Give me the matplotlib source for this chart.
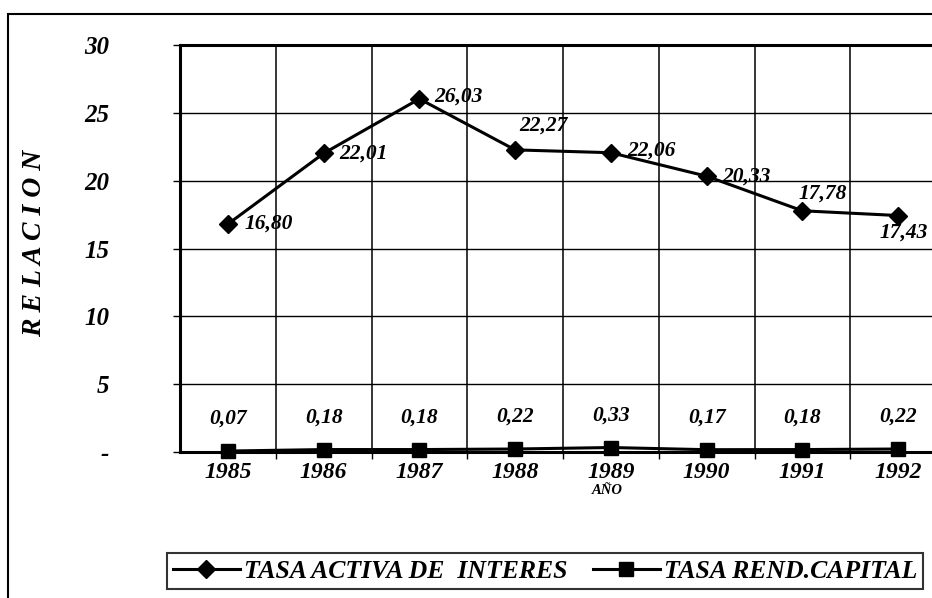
import matplotlib
matplotlib.use("Agg")
import matplotlib.pyplot as plt
from matplotlib.patches import Rectangle

plt.rcParams['font.family'] = ['Liberation Serif', 'DejaVu Serif']

years = ['1985', '1986', '1987', '1988', '1989', '1990', '1991', '1992']
tasa_activa = [16.80, 22.01, 26.03, 22.27, 22.06, 20.33, 17.78, 17.43]
tasa_rend = [0.07, 0.18, 0.18, 0.22, 0.33, 0.17, 0.18, 0.22]
yticks = [0, 5, 10, 15, 20, 25, 30]
ytick_labels = ['-', '5', '10', '15', '20', '25', '30']
series_names = ['TASA ACTIVA DE  INTERES', 'TASA REND.CAPITAL']

def fmt(v):
    return f"{v:.2f}".replace('.', ',')

W, H = 932, 598
fig = plt.figure(figsize=(W / 100, H / 100), dpi=100)
ax = fig.add_axes([180 / W, (H - 452) / H, 766 / W, 407 / H])

xs = list(range(len(years)))
ax.set_xlim(-0.5, len(years) - 0.5)
ax.set_ylim(0, 30)

ax.set_xticks([i + 0.5 for i in range(len(years) - 1)], minor=True)
ax.set_yticks(yticks)
ax.set_yticklabels(ytick_labels)
ax.set_xticks(xs)
ax.set_xticklabels(years)
ax.grid(True, which='minor', axis='x', color='black', lw=1.1)
ax.grid(True, which='major', axis='y', color='black', lw=1.0)
ax.set_axisbelow(True)

for s in ['left', 'bottom', 'top']:
    ax.spines[s].set_linewidth(2.2)
ax.spines['right'].set_visible(False)

tfont = dict(fontweight='bold', fontstyle='italic')
ax.tick_params(axis='y', length=5, width=1, pad=46, labelsize=18, direction='out')
ax.tick_params(axis='x', which='major', length=0, pad=7, labelsize=17)
ax.tick_params(axis='x', which='minor', length=5, width=1, direction='out')
for lab in ax.get_yticklabels() + ax.get_xticklabels():
    lab.set_fontweight('bold')
    lab.set_fontstyle('italic')

l1, = ax.plot(xs, tasa_activa, color='black', lw=2.2, marker='D', ms=9,
              markerfacecolor='black', markeredgecolor='black', clip_on=False, zorder=4)
l2, = ax.plot(xs, tasa_rend, color='black', lw=2.2, marker='s', ms=10,
              markerfacecolor='black', markeredgecolor='black', clip_on=False, zorder=4)

offs1 = [(17, 0, 'left', 'center'), (16, 0, 'left', 'center'), (15, 2, 'left', 'center'),
         (4, 24, 'left', 'center'), (16, 2, 'left', 'center'), (16, 0, 'left', 'center'),
         (20, 17, 'center', 'center'), (6, -17, 'center', 'center')]
for x, v, (dx, dy, ha, va) in zip(xs, tasa_activa, offs1):
    ax.annotate(fmt(v), (x, v), xytext=(dx, dy), textcoords='offset pixels',
                ha=ha, va=va, fontsize=15.5, **tfont, zorder=5)

for x, v in zip(xs, tasa_rend):
    ax.annotate(fmt(v), (x, v), xytext=(0, 32), textcoords='offset pixels',
                ha='center', va='center', fontsize=15.5, **tfont, zorder=5)

fig.text(35 / W, (H - 243) / H, 'R E L A C I O N', rotation=90, ha='center', va='center',
         fontsize=20, **tfont)
fig.text(607 / W, (H - 491) / H, 'AÑO', ha='center', va='center', fontsize=10.5, **tfont)

leg = fig.legend([l1, l2], series_names, loc='center', bbox_to_anchor=(545 / W, 1 - 571 / H),
                 ncol=2, frameon=True, fancybox=False,
                 prop=dict(family='Liberation Serif', weight='bold', style='italic', size=18.5),
                 handlelength=2.6, handletextpad=0.15, columnspacing=1.0, borderpad=0.25,
                 borderaxespad=0)
leg.get_frame().set_edgecolor('black')
leg.get_frame().set_linewidth(1.5)

fig.add_artist(Rectangle((8 / W, -0.1), 1.2, 1 - 14 / H + 0.1, transform=fig.transFigure,
                         fill=False, edgecolor='black', lw=1.5))

fig.savefig('out.png', dpi=100)
